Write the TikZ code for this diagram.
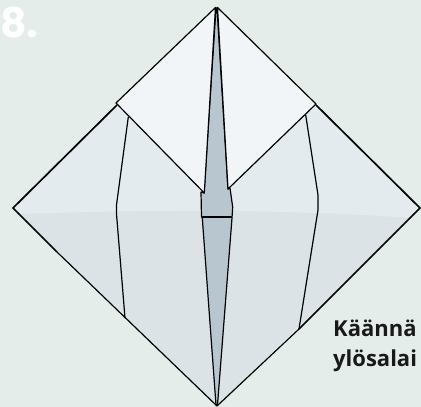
\documentclass[tikz,border=0pt]{standalone}
\usepackage{fontspec}
\setmainfont{Open Sans}
\newfontfamily\numfont{Poppins}
\definecolor{bgc}{HTML}{E4EDE9}
\definecolor{paperlight}{HTML}{E4EBEE}
\definecolor{paperdark}{HTML}{DCE3E7}
\definecolor{flapc}{HTML}{F1F5F8}
\definecolor{greyc}{HTML}{B8C6CF}
\tikzset{
  foldline/.style={draw=black,line width=1.2pt,line join=round},
  edgeline/.style={draw=black,line width=1.7pt,line join=miter},
  caption/.style={anchor=base west,inner sep=0pt,font=\fontsize{22}{23}\selectfont\bfseries,text=black!90}
}
\begin{document}
\begin{tikzpicture}[x=1pt,y=-1pt]
\useasboundingbox (0,0) rectangle (421,407);
\clip (0,0) rectangle (421,407);
\fill[bgc] (0,0) rectangle (421,407);
% main diamond
\fill[paperdark] (13,208) -- (216.5,6) -- (420,208) -- (217,406) -- cycle;
\begin{scope}
\clip (13,208) -- (216.5,6) -- (420,208) -- (217,406) -- cycle;
\fill[paperlight] (0,215) .. controls (100,210) and (300,208) .. (421,219) -- (421,0) -- (0,0) -- cycle;
\end{scope}
\draw[edgeline] (117,105) -- (13,208) -- (57,252);
\draw[edgeline] (316,105) -- (420,208) -- (299,329);
\draw[foldline] (57,252) -- (217,406) -- (299,329);
% grey centre
\path[fill=greyc,foldline] (216,8) -- (204,193) -- (201,192) -- (201.5,217) -- (202.3,218) -- (216,405) -- (217.5,405) -- (232,218) -- (232.7,207) -- (230,188) -- (228,189) -- (217,8) -- cycle;
\draw[foldline] (201.5,217) -- (232,217);
% flaps
\path[fill=flapc,foldline] (215.5,7.5) -- (116,103) -- (204.3,193) -- cycle;
\path[fill=flapc,foldline] (217.5,7.5) -- (316,104) -- (228,189) -- cycle;
% side folds
\draw[foldline] (128.3,117) -- (116.5,205) -- (116.5,214) -- (125,318);
\draw[foldline] (305.7,115) -- (318,195) -- (318,210) -- (299,329);
% texts
\node[anchor=base west,inner sep=0pt,text=white,font=\numfont\fontsize{41}{41}\selectfont\bfseries] (step8) at (0,37) {8.};
\node[caption] (line1) at (333,336) {Käännä};
\node[caption] (line2) at (333,366.5) {ylösalai};
\end{tikzpicture}
\end{document}
